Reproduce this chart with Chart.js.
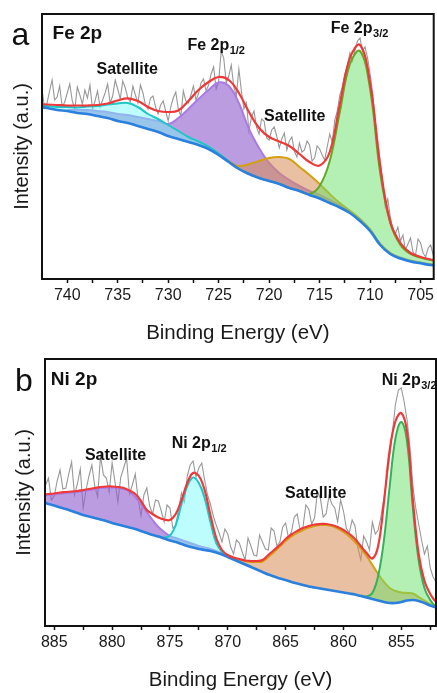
<!DOCTYPE html>
<html>
<head>
<meta charset="utf-8">
<title>Fe 2p / Ni 2p XPS</title>
<script src="https://cdn.jsdelivr.net/npm/chart.js@4.4.1/dist/chart.umd.min.js"></script>
<style>
  html, body { margin: 0; padding: 0; background: #fff; }
  #wrap { position: relative; width: 437px; height: 693px; }
  canvas { position: absolute; left: 0; display: block; }
  #feChart { top: 0; }
  #niChart { top: 346px; }
</style>
</head>
<body>
<div id="wrap">
  <canvas id="feChart" width="437" height="346"></canvas>
  <canvas id="niChart" width="437" height="347"></canvas>
</div>
<script>
Chart.defaults.font.family = "'Liberation Sans', Arial, sans-serif";
Chart.defaults.color = "#1a1a1a";

// ---------- panel a : Fe 2p ----------
const feFitE = [
  743, 742, 741, 740, 739, 738, 737, 736, 735, 734,
  733, 732, 731, 730, 729, 728, 727, 726, 725, 724,
  723, 722, 721, 720, 719, 718, 717, 716, 715, 714,
  713, 712, 711, 710, 709, 708, 707, 706, 705, 704,
  703,
];
const feBackground = [
  172, 171, 169, 168, 166, 165, 163, 161, 158, 156,
  153, 150, 147, 143, 140, 137, 134, 130, 124, 117,
  110, 105, 101, 98, 95, 91, 88, 84, 80.5, 76,
  71.5, 66, 58, 48, 34, 25, 20.5, 17.5, 15.7, 14,
  13,
];
const feEnvelope = [
  175, 174.5, 174, 173.5, 173.5, 173.5, 174, 175.5, 178.5, 180.7,
  178, 172, 168, 167, 168.5, 178, 189, 197, 202, 199,
  186, 167, 151, 142, 137.5, 133, 125, 117, 113.5, 127,
  175, 221, 234, 196, 113, 57, 36, 26, 22, 19.5,
  18,
];
const feSatelliteA = [
  173.5, 173, 172, 172, 171.5, 172.5, 173, 174.5, 175.5, 176,
  172, 165, 160, 154, 148, 142, 137.5, 132.5, 125.5, 118,
  110.5, 105.3, 101.3, 98.3, 95.3, 91.3, 88.3, 84.3, null, null,
  null, null, null, null, null, null, null, null, null, null,
  null,
];
const fe2p12 = [
  null, null, null, 169, 169, 169, 168, 167, 165, 164,
  162, 160, 158, 155, 161, 170, 180, 189, 196.5, 193,
  176, 150, 131, 116, 106, 99, 93, 88, 84, 79,
  74, 68, 60, 49.5, 35, 26, 21.5, 18.5, 16.5, 14.8,
  13.8,
];
const feSatelliteB = [
  null, null, null, null, null, null, null, null, null, null,
  null, null, null, null, null, null, null, null, 124, 117.5,
  113, 115, 118, 121, 122, 120, 112, 104, 95, 85,
  76, 68.5, 60, 49.5, 35, 26, 21, 18, 16.2, 14.5,
  13.5,
];
const fe2p32 = [
  null, null, null, null, null, null, null, null, null, null,
  null, null, null, null, null, null, null, null, null, null,
  null, null, null, null, null, null, 88, 85, 93, 118,
  167, 215, 228, 190, 106, 56, 34, 25, 21.5, 19,
  17.5,
];
const feRawE = [
  743, 742.75, 742.5, 742.25, 742, 741.75, 741.5, 741.25,
  741, 740.75, 740.5, 740.25, 740, 739.75, 739.5, 739.25,
  739, 738.75, 738.5, 738.25, 738, 737.75, 737.5, 737.25,
  737, 736.75, 736.5, 736.25, 736, 735.75, 735.5, 735.25,
  735, 734.75, 734.5, 734.25, 734, 733.75, 733.5, 733.25,
  733, 732.75, 732.5, 732.25, 732, 731.75, 731.5, 731.25,
  731, 730.75, 730.5, 730.25, 730, 729.75, 729.5, 729.25,
  729, 728.75, 728.5, 728.25, 728, 727.75, 727.5, 727.25,
  727, 726.75, 726.5, 726.25, 726, 725.75, 725.5, 725.25,
  725, 724.75, 724.5, 724.25, 724, 723.75, 723.5, 723.25,
  723, 722.75, 722.5, 722.25, 722, 721.75, 721.5, 721.25,
  721, 720.75, 720.5, 720.25, 720, 719.75, 719.5, 719.25,
  719, 718.75, 718.5, 718.25, 718, 717.75, 717.5, 717.25,
  717, 716.75, 716.5, 716.25, 716, 715.75, 715.5, 715.25,
  715, 714.75, 714.5, 714.25, 714, 713.75, 713.5, 713.25,
  713, 712.75, 712.5, 712.25, 712, 711.75, 711.5, 711.25,
  711, 710.75, 710.5, 710.25, 710, 709.75, 709.5, 709.25,
  709, 708.75, 708.5, 708.25, 708, 707.75, 707.5, 707.25,
  707, 706.75, 706.5, 706.25, 706, 705.75, 705.5, 705.25,
  705, 704.75, 704.5, 704.25, 704, 703.75, 703.5, 703.25,
  703,
];
const feRaw = [
  178, 185, 190, 171, 176, 188, 199, 179,
  182, 193, 172, 177, 186, 195, 178, 170,
  192, 184, 175, 189, 181, 194, 170, 178,
  188, 172, 179, 186, 195, 176, 183, 199,
  190, 180, 198, 191, 181, 177, 193, 184,
  176, 194, 186, 174, 170, 181, 183, 172,
  165, 174, 178, 168, 158, 172, 181, 187,
  170, 163, 188, 178, 176, 184, 193, 179,
  185, 196, 200, 188, 194, 205, 212, 190,
  198, 228, 221, 196, 203, 214, 192, 183,
  210, 188, 170, 176, 148, 162, 168, 152,
  145, 160, 158, 141, 139, 149, 152, 143,
  131, 140, 146, 129, 138, 142, 128, 122,
  136, 127, 129, 138, 134, 118, 121, 133,
  130, 124, 119, 132, 145, 137, 159, 168,
  184, 192, 205, 214, 226, 218, 229, 238,
  241, 228, 232, 221, 205, 186, 160, 139,
  118, 96, 72, 80, 62, 51, 45, 52,
  38, 44, 29, 35, 41, 27, 24, 40,
  36, 26, 22, 31, 34, 24, 20, 30,
  28,
];
const feTicks = [740, 737.5, 735, 732.5, 730, 727.5, 725, 722.5, 720, 717.5, 715, 712.5, 710, 707.5, 705];

// ---------- panel b : Ni 2p ----------
const niFitE = [
  886, 885.5, 885, 884.5, 884, 883.5, 883, 882.5, 882, 881.5,
  881, 880.5, 880, 879.5, 879, 878.5, 878, 877.5, 877, 876.5,
  876, 875.5, 875, 874.5, 874, 873.5, 873, 872.5, 872, 871.5,
  871, 870.5, 870, 869.5, 869, 868.5, 868, 867.5, 867, 866.5,
  866, 865.5, 865, 864.5, 864, 863.5, 863, 862.5, 862, 861.5,
  861, 860.5, 860, 859.5, 859, 858.5, 858, 857.5, 857, 856.5,
  856, 855.5, 855, 854.5, 854, 853.5, 853, 852.5, 852, 851.5,
];
const niBackground = [
  124, 122, 120.5, 118.5, 117, 115, 113, 111, 109.5, 108,
  106.5, 105, 103, 101.5, 100, 98.5, 97, 95, 93, 91,
  89.5, 87.5, 85.5, 84, 82, 80, 78.5, 77, 76, 75,
  73.5, 71.5, 69, 66.5, 64, 61.5, 59, 56.5, 54, 51.5,
  49.5, 47.5, 46, 44, 42.5, 41, 39.5, 38.5, 37.5, 36.5,
  35.5, 34.5, 33.5, 32.5, 31.5, 30, 28.5, 27, 25.5, 24,
  23, 23, 24, 25.5, 26, 25, 23, 20.5, 18.5, 17,
];
const niEnvelope = [
  131.5, 132, 132.5, 133.5, 134, 134.5, 135, 136, 137, 138,
  139, 139.5, 139.5, 139, 138, 135.5, 132, 125, 116, 112,
  108.5, 106.5, 106, 112, 126, 143, 153, 150, 136, 111,
  88, 76, 71, 68.5, 67, 65.5, 65, 65, 66, 71,
  76, 81, 87, 91.5, 95, 98, 100, 101.5, 102, 102,
  101, 99, 96, 92, 87, 80, 73, 67.5, 80, 124,
  176, 205, 213, 194, 126, 72, 45, 32, 24, 20,
];
const niSatelliteA = [
  130.5, 131, 131.5, 132.5, 133, 133.5, 134, 135, 136, 137,
  138, 138.5, 138.5, 138, 137, 134.5, 129, 122, 114, 106,
  99, 94, 90, 88, 86, 84, 82, 80, 78.5, 77,
  75, 72.5, 70, 67.5, 64.5, null, null, null, null, null,
  null, null, null, null, null, null, null, null, null, null,
  null, null, null, null, null, null, null, null, null, null,
  null, null, null, null, null, null, null, null, null, null,
];
const ni2p12 = [
  null, null, null, null, null, null, null, null, null, null,
  null, null, null, null, null, null, null, null, null, null,
  89.8, 88.5, 90.5, 101, 122, 140, 148.5, 143, 128, 104,
  83, 74, 70.5, 67, 64.5, 62, 59.5, null, null, null,
  null, null, null, null, null, null, null, null, null, null,
  null, null, null, null, null, null, null, null, null, null,
  null, null, null, null, null, null, null, null, null, null,
];
const niSatelliteB = [
  null, null, null, null, null, null, null, null, null, null,
  null, null, null, null, null, null, null, null, null, null,
  null, null, null, null, null, null, null, null, null, null,
  null, null, 70, 68, 66.5, 65, 64, 64, 64.5, 69,
  74, 79.5, 85, 89.5, 93, 96, 98.5, 100, 101, 101,
  100, 97.5, 94, 89.5, 84, 77.5, 70, 61, 52, 44,
  38, 35, 33.5, 33, 32.5, 29, 25.5, 22, 19, 17.5,
];
const ni2p32 = [
  null, null, null, null, null, null, null, null, null, null,
  null, null, null, null, null, null, null, null, null, null,
  null, null, null, null, null, null, null, null, null, null,
  null, null, null, null, null, null, null, null, null, null,
  null, null, null, null, null, null, null, null, null, null,
  null, null, null, null, null, 30.5, 29.5, 33, 50, 86,
  140, 188, 204, 184, 118, 66, 38, 26, 19.5, 17.5,
];
const niRawE = [
  886, 885.75, 885.5, 885.25, 885, 884.75, 884.5, 884.25,
  884, 883.75, 883.5, 883.25, 883, 882.75, 882.5, 882.25,
  882, 881.75, 881.5, 881.25, 881, 880.75, 880.5, 880.25,
  880, 879.75, 879.5, 879.25, 879, 878.75, 878.5, 878.25,
  878, 877.75, 877.5, 877.25, 877, 876.75, 876.5, 876.25,
  876, 875.75, 875.5, 875.25, 875, 874.75, 874.5, 874.25,
  874, 873.75, 873.5, 873.25, 873, 872.75, 872.5, 872.25,
  872, 871.75, 871.5, 871.25, 871, 870.75, 870.5, 870.25,
  870, 869.75, 869.5, 869.25, 869, 868.75, 868.5, 868.25,
  868, 867.75, 867.5, 867.25, 867, 866.75, 866.5, 866.25,
  866, 865.75, 865.5, 865.25, 865, 864.75, 864.5, 864.25,
  864, 863.75, 863.5, 863.25, 863, 862.75, 862.5, 862.25,
  862, 861.75, 861.5, 861.25, 861, 860.75, 860.5, 860.25,
  860, 859.75, 859.5, 859.25, 859, 858.75, 858.5, 858.25,
  858, 857.75, 857.5, 857.25, 857, 856.75, 856.5, 856.25,
  856, 855.75, 855.5, 855.25, 855, 854.75, 854.5, 854.25,
  854, 853.75, 853.5, 853.25, 853, 852.75, 852.5, 852.25,
  852, 851.75, 851.5,
];
const niRaw = [
  133, 141, 148, 126, 130, 145, 156, 137,
  138, 152, 164, 131, 142, 157, 118, 136,
  150, 161, 140, 129, 170, 151, 148, 134,
  163, 144, 124, 149, 158, 168, 132, 141,
  152, 127, 110, 131, 138, 120, 112, 126,
  125, 115, 104, 121, 118, 98, 100, 117,
  133, 124, 150, 161, 165, 149, 158, 163,
  146, 131, 122, 110, 101, 93, 84, 97,
  92, 79, 72, 86, 83, 74, 66, 88,
  80, 71, 70, 91, 84, 77, 76, 98,
  95, 80, 84, 99, 103, 88, 94, 109,
  112, 96, 99, 121, 117, 102, 108, 134,
  128, 109, 112, 130, 122, 118, 104, 126,
  115, 98, 93, 106, 100, 78, 66, 90,
  84, 76, 104, 92, 96, 110, 128, 148,
  170, 196, 222, 236, 238, 224, 206, 178,
  140, 118, 102, 86, 72, 80, 58, 49,
  44, 40, 36,
];
const niTicks = [885, 882.5, 880, 877.5, 875, 872.5, 870, 867.5, 865, 862.5, 860, 857.5, 855, 852.5];

const FONT = "'Liberation Sans', Arial, sans-serif";

const pts = (xs, ys) => xs.map((x, i) => ({ x: x, y: ys[i] }));

// frame, panel letter and peak labels
const panelDecor = {
  id: "panelDecor",
  afterDraw(chart, args, opts) {
    const { ctx, chartArea: a, scales } = chart;
    ctx.save();
    ctx.strokeStyle = "#111";
    ctx.lineWidth = 2;
    ctx.strokeRect(a.left, a.top, a.right - a.left, a.bottom - a.top);

    ctx.fillStyle = "#111";
    ctx.textBaseline = "alphabetic";
    ctx.textAlign = "center";
    ctx.font = "32px " + FONT;
    ctx.fillText(opts.letter, opts.letterX, opts.letterY);

    ctx.textAlign = "left";
    opts.labels.forEach((l) => {
      let px = scales.x.getPixelForValue(l.x);
      const py = scales.y.getPixelForValue(l.y);
      ctx.font = "bold " + l.size + "px " + FONT;
      ctx.fillText(l.text, px, py);
      if (l.sub) {
        px += ctx.measureText(l.text).width + 0.5;
        ctx.font = "bold 11px " + FONT;
        ctx.fillText(l.sub, px, py + 4);
      }
    });
    ctx.restore();
  },
};

const colors = {
  raw: "#989898",
  envelope: "#f03838",
  background: "#2a80dc",
  cyanLine: "#1fc6c6",
  cyanFill: "rgba(110, 250, 250, 0.45)",
  purpleLine: "#a97be6",
  purpleFill: "rgba(145, 95, 205, 0.62)",
  goldLine: "#d3a012",
  goldFill: "rgba(215, 140, 85, 0.55)",
  greenFill: "rgba(105, 225, 105, 0.5)",
};

function component(label, data, line, fill, order) {
  return {
    label: label,
    data: data,
    borderColor: line,
    backgroundColor: fill,
    borderWidth: 2,
    fill: { target: 1, above: fill, below: fill },
    order: order,
  };
}

function xpsPanel(id, p) {
  return new Chart(document.getElementById(id), {
    type: "line",
    data: { datasets: p.datasets },
    options: {
      responsive: false,
      animation: false,
      devicePixelRatio: 1,
      layout: { autoPadding: false, padding: p.padding },
      elements: { point: { radius: 0 }, line: { tension: 0.4 } },
      plugins: {
        legend: { display: false },
        tooltip: { enabled: false },
        panelDecor: p.decor,
      },
      scales: {
        x: {
          type: "linear",
          reverse: true,
          min: p.xMin,
          max: p.xMax,
          afterBuildTicks: (s) => {
            s.ticks = p.ticks.map((v) => ({ value: v }));
          },
          afterFit: (s) => {
            s.height = 67;
          },
          ticks: {
            autoSkip: false,
            maxRotation: 0,
            padding: 3,
            color: "#1a1a1a",
            font: { size: 16 },
            callback: (v) => (v % 5 === 0 ? String(v) : ""),
          },
          grid: { drawOnChartArea: false, drawTicks: true, tickLength: 4, tickWidth: 1.5, tickColor: "#111" },
          border: { display: false },
          title: {
            display: true,
            text: "Binding Energy (eV)",
            color: "#1a1a1a",
            font: { size: 20.5 },
            padding: { top: 0, bottom: 0 },
          },
        },
        y: {
          min: 0,
          max: p.yMax,
          afterFit: (s) => {
            s.width = p.yWidth;
          },
          ticks: { display: false },
          grid: { display: false },
          border: { display: false },
          title: {
            display: true,
            text: "Intensity (a.u.)",
            color: "#1a1a1a",
            font: { size: 20 },
            padding: { top: p.yTitlePad, bottom: 0 },
          },
        },
      },
    },
    plugins: [panelDecor],
  });
}

xpsPanel("feChart", {
  xMin: 703.7,
  xMax: 742.5,
  yMax: 265,
  yWidth: 42,
  yTitlePad: 10,
  padding: { top: 14, right: 2, bottom: 0, left: 0 },
  ticks: feTicks,
  datasets: [
    { label: "Envelope", data: pts(feFitE, feEnvelope), borderColor: colors.envelope, borderWidth: 2.2, fill: false, order: 0 },
    { label: "Background", data: pts(feFitE, feBackground), borderColor: colors.background, borderWidth: 2.6, fill: false, order: 1 },
    component("Fe 2p3/2", pts(feFitE, fe2p32), "#63a826", colors.greenFill, 2),
    component("Satellite", pts(feFitE, feSatelliteB), colors.goldLine, colors.goldFill, 3),
    component("Satellite", pts(feFitE, feSatelliteA), colors.cyanLine, colors.cyanFill, 4),
    component("Fe 2p1/2", pts(feFitE, fe2p12), colors.purpleLine, colors.purpleFill, 5),
    { label: "Raw", data: pts(feRawE, feRaw), borderColor: colors.raw, borderWidth: 1.1, tension: 0, fill: false, order: 9 },
  ],
  decor: {
    letter: "a",
    letterX: 20.5,
    letterY: 45,
    labels: [
      { text: "Fe 2p", x: 741.45, y: 240.5, size: 19 },
      { text: "Satellite", x: 737.1, y: 205, size: 16 },
      { text: "Fe 2p", sub: "1/2", x: 728.1, y: 229, size: 16 },
      { text: "Satellite", x: 720.5, y: 158.3, size: 16 },
      { text: "Fe 2p", sub: "3/2", x: 713.9, y: 245.7, size: 16 },
    ],
  },
});

xpsPanel("niChart", {
  xMin: 852,
  xMax: 885.8,
  yMax: 267,
  yWidth: 45,
  yTitlePad: 12,
  padding: { top: 13, right: 1, bottom: 0, left: 0 },
  ticks: niTicks,
  datasets: [
    { label: "Envelope", data: pts(niFitE, niEnvelope), borderColor: colors.envelope, borderWidth: 2.2, fill: false, order: 0 },
    { label: "Background", data: pts(niFitE, niBackground), borderColor: colors.background, borderWidth: 2.6, fill: false, order: 1 },
    component("Ni 2p3/2", pts(niFitE, ni2p32), "#34b25a", colors.greenFill, 2),
    component("Satellite", pts(niFitE, niSatelliteB), colors.goldLine, colors.goldFill, 3),
    component("Ni 2p1/2", pts(niFitE, ni2p12), colors.cyanLine, colors.cyanFill, 4),
    component("Satellite", pts(niFitE, niSatelliteA), colors.purpleLine, colors.purpleFill, 5),
    { label: "Raw", data: pts(niRawE, niRaw), borderColor: colors.raw, borderWidth: 1.1, tension: 0, fill: false, order: 9 },
  ],
  decor: {
    letter: "b",
    letterX: 24,
    letterY: 45,
    labels: [
      { text: "Ni 2p", x: 885.3, y: 241, size: 19 },
      { text: "Satellite", x: 882.35, y: 166, size: 16 },
      { text: "Ni 2p", sub: "1/2", x: 874.85, y: 177.7, size: 16 },
      { text: "Satellite", x: 865.05, y: 128.3, size: 16 },
      { text: "Ni 2p", sub: "3/2", x: 856.7, y: 241, size: 16 },
    ],
  },
});
</script>
</body>
</html>
